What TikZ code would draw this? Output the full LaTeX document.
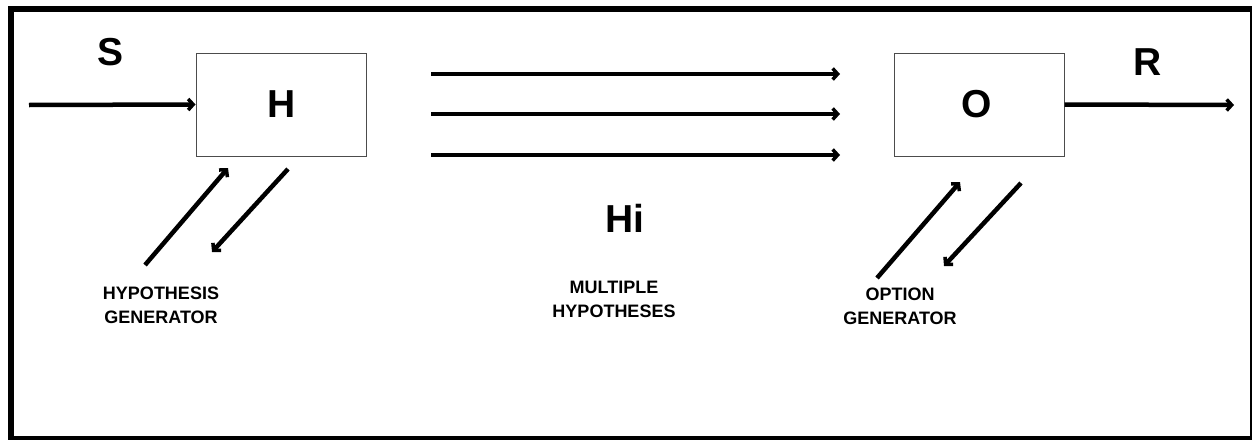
\documentclass[tikz,border=0pt]{standalone}
\usepackage{fontspec}
\setmainfont{Liberation Sans}
\usetikzlibrary{arrows.meta}
\tikzset{
  box/.style={draw=black!70, line width=1pt, minimum width=170pt, minimum height=103pt, inner sep=0pt},
  big/.style={font=\bfseries\fontsize{39}{42}\selectfont, inner sep=0pt},
  small/.style={font=\bfseries\fontsize{18}{24}\selectfont, align=center, inner sep=0pt},
  arr/.style={line width=4.5pt, -{Straight Barb[length=5pt, width=11pt, line width=3.5pt]}},
  frame/.style={line width=6pt}
}
\begin{document}
\begin{tikzpicture}[x=1pt, y=-1pt]
\useasboundingbox (0,0) rectangle (1252,439);
\draw[frame] (11,9) rectangle (1253,439);
% boxes
\node[box] (H) at (281,104.5) {};
\node[box] (O) at (979,104.5) {};
\node[big] (Ht) at (282,104) {H};
\node[big] (Ot) at (977,104) {O};
\node[big] (S) at (111,52) {S};
\node[big] (R) at (1148,62) {R};
\node[big] (Hi) at (625,218) {Hi};
% labels
\node[small] (hg) at (161,305.5) {HYPOTHESIS\\GENERATOR};
\node[small] (mh) at (614,299) {MULTIPLE\\HYPOTHESES};
\node[small] (og) at (900,306.5) {OPTION\\GENERATOR};
% coordinates
\coordinate (sin) at (29,105);
\coordinate (rout) at (1234,105);
\coordinate (a1s) at (431,74);  \coordinate (a1e) at (840,74);
\coordinate (a2s) at (431,114); \coordinate (a2e) at (840,114);
\coordinate (a3s) at (431,155); \coordinate (a3e) at (840,155);
\coordinate (hu1) at (145,265); \coordinate (hu2) at (228,168);
\coordinate (hd1) at (288,169); \coordinate (hd2) at (212,252);
\coordinate (ou1) at (877,278); \coordinate (ou2) at (960,182);
\coordinate (od1) at (1021,183); \coordinate (od2) at (944,266);
% arrows
\draw[arr] (sin) -- (H.west);
\draw[arr] (O.east) -- (rout);
\draw[arr] (a1s) -- (a1e);
\draw[arr] (a2s) -- (a2e);
\draw[arr] (a3s) -- (a3e);
\draw[arr] (hu1) -- (hu2);
\draw[arr] (hd1) -- (hd2);
\draw[arr] (ou1) -- (ou2);
\draw[arr] (od1) -- (od2);
\end{tikzpicture}
\end{document}
